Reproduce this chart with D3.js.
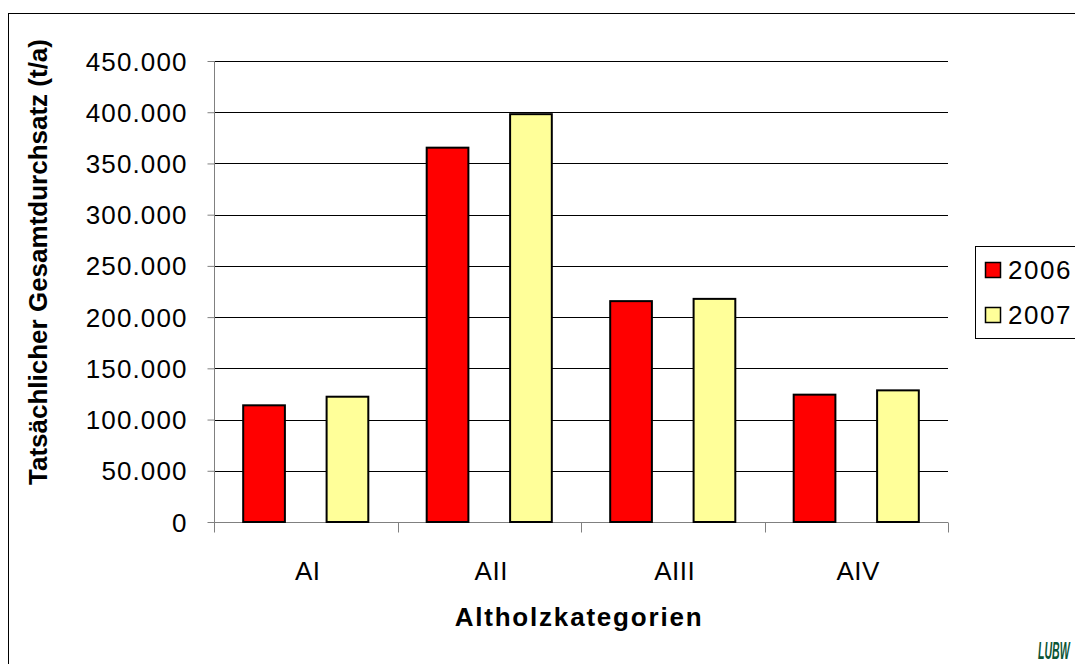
<!DOCTYPE html>
<html>
<head>
<meta charset="utf-8">
<script src="https://cdn.jsdelivr.net/npm/d3@7"></script>
<style>
  body { margin: 0; background: #fff; }
  svg { display: block; font-family: "Liberation Sans", Arial, sans-serif; }
</style>
</head>
<body>
<svg id="chart" width="1075" height="664"></svg>
<script>
const categories = ['AI', 'AII', 'AIII', 'AIV'];
const years = ['2006', '2007'];
const values2006 = [113900, 365400, 215600, 124300];
const values2007 = [122300, 398100, 217800, 128500];
const yTicks = [0, 50000, 100000, 150000, 200000, 250000, 300000, 350000, 400000, 450000];
const colors = ['#ff0000', '#ffff99'];

const svg = d3.select('#chart');
const plot = { left: 214, right: 948, top: 61, bottom: 522 };

// outer frame of the chart object
svg.append('rect')
  .attr('x', 8.5).attr('y', 13.5)
  .attr('width', 1080).attr('height', 670)
  .attr('fill', 'none').attr('stroke', '#000').attr('stroke-width', 1);

const x = d3.scaleBand()
  .domain(categories)
  .range([plot.left, plot.right]);

const xInner = d3.scaleBand()
  .domain(years)
  .range([0, x.bandwidth()])
  .paddingInner(0.5)
  .paddingOuter(0.35);

const y = d3.scaleLinear()
  .domain([0, 450000])
  .range([plot.bottom, plot.top]);

const fmt = v => d3.format(',')(v).replace(/,/g, '.');

// gridlines
svg.append('g')
  .selectAll('line')
  .data(yTicks.filter(t => t > 0))
  .enter()
  .append('line')
  .attr('x1', plot.left).attr('x2', plot.right)
  .attr('y1', d => Math.round(y(d)) + 0.5).attr('y2', d => Math.round(y(d)) + 0.5)
  .attr('stroke', '#000').attr('stroke-width', 1);

// y axis
const yAxis = svg.append('g')
  .attr('transform', `translate(${plot.left + 0.5},0)`)
  .call(d3.axisLeft(y).tickValues(yTicks).tickFormat(fmt).tickSize(7).tickPadding(20));
yAxis.select('.domain').attr('stroke', '#808080').attr('d', `M0,${plot.top}V${plot.bottom}`);
yAxis.selectAll('.tick line').attr('stroke', '#808080');
yAxis.selectAll('text')
  .attr('font-size', 26).attr('fill', '#000')
  .attr('letter-spacing', 1.1)
  .attr('dy', '0.35em')
  .attr('font-family', '"Liberation Sans", Arial, sans-serif');

// x axis
const xAxis = svg.append('g')
  .attr('transform', `translate(0,${plot.bottom + 0.5})`);
xAxis.append('line')
  .attr('x1', plot.left).attr('x2', plot.right)
  .attr('stroke', '#808080');
xAxis.selectAll('line.tk')
  .data(categories.concat(['end']))
  .enter()
  .append('line')
  .attr('class', 'tk')
  .attr('x1', (d, i) => Math.round(plot.left + i * x.step()) + 0.5)
  .attr('x2', (d, i) => Math.round(plot.left + i * x.step()) + 0.5)
  .attr('y1', 0).attr('y2', 10)
  .attr('stroke', '#808080');
xAxis.selectAll('text')
  .data(categories)
  .enter()
  .append('text')
  .attr('x', d => x(d) + x.bandwidth() / 2 + 2)
  .attr('y', 57)
  .attr('text-anchor', 'middle')
  .attr('font-size', 26)
  .attr('letter-spacing', 0.5)
  .text(d => d);

// bars
const series = [values2006, values2007];
series.forEach((vals, si) => {
  svg.append('g')
    .selectAll('rect')
    .data(categories)
    .enter()
    .append('rect')
    .attr('x', d => x(d) + xInner(years[si]))
    .attr('y', (d, i) => y(vals[i]))
    .attr('width', xInner.bandwidth())
    .attr('height', (d, i) => y(0) - y(vals[i]))
    .attr('fill', colors[si])
    .attr('stroke', '#000')
    .attr('stroke-width', 2);
});

// axis titles
svg.append('text')
  .attr('transform', `translate(47,262) rotate(-90)`)
  .attr('text-anchor', 'middle')
  .attr('font-size', 26).attr('font-weight', 'bold')
  .text('Tatsächlicher Gesamtdurchsatz (t/a)');

svg.append('text')
  .attr('x', 579).attr('y', 626)
  .attr('text-anchor', 'middle')
  .attr('font-size', 26).attr('font-weight', 'bold')
  .attr('letter-spacing', 1.8)
  .text('Altholzkategorien');

// legend
const legend = svg.append('g');
legend.append('rect')
  .attr('x', 975.5).attr('y', 246.5)
  .attr('width', 120).attr('height', 92)
  .attr('fill', '#fff').attr('stroke', '#000');
years.forEach((yr, i) => {
  const g = legend.append('g').attr('transform', `translate(0,${i * 45})`);
  g.append('rect')
    .attr('x', 985.5).attr('y', 262.5)
    .attr('width', 15).attr('height', 15)
    .attr('fill', colors[i]).attr('stroke', '#000').attr('stroke-width', 1.5);
  g.append('text')
    .attr('x', 1008).attr('y', 279)
    .attr('font-size', 26)
    .attr('letter-spacing', 1.5)
    .text(yr);
});

// LUBW logo (squeezed horizontally)
svg.append('text')
  .attr('transform', 'translate(1038,659) scale(0.44,1)')
  .attr('font-size', 24).attr('font-weight', 'bold').attr('font-style', 'italic')
  .attr('fill', '#0b5535')
  .text('LUBW');
</script>
</body>
</html>
